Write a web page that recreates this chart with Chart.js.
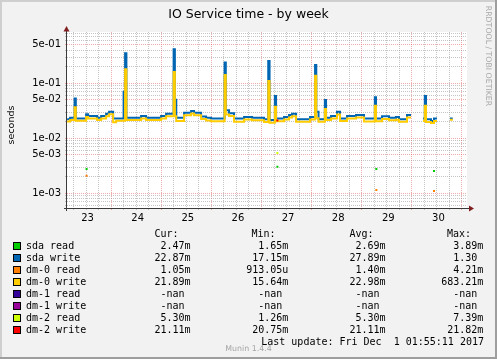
<!DOCTYPE html>
<html>
<head>
<meta charset="utf-8">
<title>IO Service time - by week</title>
<script src="https://cdn.jsdelivr.net/npm/chart.js@4.4.1/dist/chart.umd.min.js"></script>
<style>
html,body{margin:0;padding:0;background:#F2F2F2;overflow:hidden;}
#wrap{position:relative;width:497px;height:359px;}
#chart{position:absolute;left:0;top:0;width:497px;height:359px;}
.txt{position:absolute;white-space:pre;color:#000;}
.mono{font-family:"DejaVu Sans Mono",monospace;font-size:10px;line-height:12px;}
.sq{position:absolute;width:8px;height:8px;box-sizing:border-box;border:1px solid #000;}
</style>
</head>
<body>
<div id="wrap">
<canvas id="chart" width="497" height="359"></canvas>
<div class="txt" style="left:0;top:5.6px;width:497px;text-align:center;font-family:'DejaVu Sans';font-size:12.5px;line-height:15px;">IO Service time - by week</div>
<div class="txt" style="left:-39px;top:119px;width:100px;height:12px;text-align:center;font-family:'DejaVu Sans';font-size:9.5px;line-height:12px;transform:rotate(-90deg);">seconds</div>
<div class="txt" style="left:427.5px;top:50.5px;width:120px;height:10px;text-align:center;font-family:'DejaVu Sans';font-size:7.8px;line-height:10px;color:#A8A8A8;transform:rotate(90deg);">RRDTOOL / TOBI OETIKER</div>
<div id="legend"></div>
<div class="txt" style="left:0;top:343.5px;width:497px;text-align:center;font-family:'DejaVu Sans';font-size:7.86px;line-height:9px;color:#A5A5A5;">Munin 1.4.4</div>
</div>
<script>
// ---------- data ----------
const dayLabels = ['23','24','25','26','27','28','29','30'];
const firstDay = 23;
const yLabelValues = [1e-3, 5e-3, 1e-2, 5e-2, 1e-1, 5e-1];
const yLabelTexts = ['1e-03','5e-03','1e-02','5e-02','1e-01','5e-01'];

// time in days (day-of-month), values in seconds
const writeTimes = [23.122,23.182,23.272,23.296,23.501,23.541,23.721,23.801,23.900,23.960,
  24.040,24.100,24.249,24.279,24.305,24.598,24.698,24.997,25.097,25.247,
  25.272,25.300,25.456,25.596,25.655,25.795,25.895,25.994,26.264,26.288,
  26.353,26.453,26.653,26.812,27.051,27.135,27.161,27.267,27.291,27.450,
  27.550,27.610,27.690,27.969,28.069,28.093,28.138,28.264,28.288,28.388,
  28.507,28.567,28.707,28.886,29.046,29.261,29.285,29.405,29.544,29.684,
  29.744,29.903,29.983,29.990,30.223,30.258,30.282,30.382,30.442,30.502,
  30.510,30.761,30.815];
const sdaWrite = [0.0222,0.0237,0.053,0.0230,0.0273,0.0254,0.0237,0.0254,0.0280,0.0305,
  0.0230,0.0230,0.0700,0.351,0.0237,0.0254,0.0237,0.0254,0.0280,0.415,
  0.0500,0.0237,0.0292,0.0314,0.0290,0.0250,0.0237,0.0230,0.240,0.0323,
  0.0285,0.0230,0.0244,0.0237,0.0222,0.254,0.0215,0.0588,0.0230,0.0244,
  0.0265,0.0280,0.0222,0.0244,0.215,0.0305,0.0222,0.0497,0.0237,0.0254,
  0.0305,0.0230,0.0254,0.0265,0.0230,0.0556,0.0230,0.0251,0.0237,0.0244,
  0.0222,0.0265,0.0265,null,0.0230,0.0588,0.0222,0.0206,0.0230,0.0230,
  null,0.0230,0.0230];
const dm0Write = [0.0202,0.0214,0.0366,0.0208,0.0245,0.0230,0.0214,0.0230,0.0252,0.0275,
  0.0196,0.0208,0.0208,0.180,0.0214,0.0230,0.0214,0.0230,0.0252,0.160,
  0.0252,0.0206,0.0262,0.0282,0.0262,0.0225,0.0210,0.0205,0.1415,0.0270,
  0.0255,0.0200,0.0220,0.0212,0.0198,0.110,0.0192,0.0375,0.0205,0.0220,
  0.0238,0.0252,0.0200,0.0220,0.137,0.0232,0.0200,0.0340,0.0214,0.0230,
  0.0272,0.0206,0.0228,0.0240,0.0202,0.0390,0.0205,0.0225,0.0212,0.0218,
  0.0200,0.0238,0.0238,null,0.0206,0.0390,0.0198,0.0190,0.0207,0.0207,
  null,0.0218,0.0218];

// isolated samples of the read series
const readTimes = [23.511, 27.317, 29.291, 30.442];
const sdaRead  = [0.00277, 0.00305, 0.00277, 0.00254];
const dm0Read  = [0.00209, null, 0.00115, 0.00110];
const dm1Read  = [null, null, null, null];
const dm1Write = [null, null, null, null];
const dm2Read  = [null, 0.0054, null, null];
const dm2Write = [null, 0.0211, null, null];

// legend table
const seriesNames = ['sda read','sda write','dm-0 read','dm-0 write','dm-1 read','dm-1 write','dm-2 read','dm-2 write'];
const curValues = ['2.47m','22.87m','1.05m','21.89m','-nan ','-nan ','5.30m','21.11m'];
const minValues = ['1.65m','17.15m','913.05u','15.64m','-nan ','-nan ','1.26m','20.75m'];
const avgValues = ['2.69m','27.89m','1.40m','22.98m','-nan ','-nan ','5.30m','21.11m'];
const maxValues = ['3.89m','1.30 ','4.21m','683.21m','-nan ','-nan ','7.39m','21.82m'];
const lastUpdate = 'Last update: Fri Dec  1 01:55:11 2017';

// ---------- styling ----------
const seriesColors = ['#00CC00','#0066B3','#FF8000','#FFCC00','#330099','#990099','#CCFF00','#FF0000'];
const GRID_MINOR = 'rgba(150,150,150,0.55)';
const GRID_MAJOR = 'rgba(230,90,90,0.5)';
const X_MIN = 23.12, X_MAX = 31.1;
const Y_MIN = 5.40e-4, Y_MAX = 0.8565;
const SAMPLE_HALF = 0.02;

function stepSeries(times, values) {
  return times.map((t, i) => ({x: t, y: values[i]}));
}
function sampleSeries(times, values) {
  const out = [];
  times.forEach((t, i) => {
    const v = values[i];
    if (v == null) return;
    out.push({x: t - SAMPLE_HALF, y: v}, {x: t + SAMPLE_HALF, y: v}, {x: t + SAMPLE_HALF + 0.001, y: null});
  });
  return out;
}

const seriesData = [
  sampleSeries(readTimes, sdaRead),
  stepSeries(writeTimes, sdaWrite),
  sampleSeries(readTimes, dm0Read),
  stepSeries(writeTimes, dm0Write),
  sampleSeries(readTimes, dm1Read),
  sampleSeries(readTimes, dm1Write),
  sampleSeries(readTimes, dm2Read),
  sampleSeries(readTimes, dm2Write)
];

const datasets = seriesNames.map((name, i) => ({
  label: name,
  data: seriesData[i],
  borderColor: seriesColors[i],
  backgroundColor: seriesColors[i],
  borderWidth: 2,
  pointRadius: 0,
  stepped: true,
  spanGaps: false,
  fill: false,
  order: seriesNames.length - 1 - i
}));

// ---------- legend (HTML text) ----------
const legend = document.getElementById('legend');
function addText(text, style) {
  const d = document.createElement('div');
  d.className = 'txt mono';
  d.textContent = text;
  Object.assign(d.style, style);
  legend.appendChild(d);
}
const headers = ['Cur:','Min:','Avg:','Max:'];
const headerLeft = [154.5, 251.5, 349.5, 447];
const colRight = [190.6, 288.3, 385.6, 483.3];
headers.forEach((h, j) => addText(h, {left: headerLeft[j] + 'px', top: '228px'}));
seriesNames.forEach((name, i) => {
  const top = 240 + 12 * i;
  const sq = document.createElement('div');
  sq.className = 'sq';
  sq.style.left = '13px';
  sq.style.top = (242 + 12 * i) + 'px';
  sq.style.background = seriesColors[i];
  legend.appendChild(sq);
  addText(name, {left: '26px', top: top + 'px'});
  [curValues, minValues, avgValues, maxValues].forEach((col, j) => {
    addText(col[i], {right: (497 - colRight[j]) + 'px', top: top + 'px', textAlign: 'right'});
  });
});
addText(lastUpdate, {right: (497 - 484) + 'px', top: '336px', textAlign: 'right'});

// ---------- chart ----------
const framePlugin = {
  id: 'frame',
  beforeDraw(chart) {
    const {ctx, chartArea: a, width, height} = chart;
    ctx.save();
    ctx.fillStyle = '#F2F2F2';
    ctx.fillRect(0, 0, width, height);
    ctx.fillStyle = '#CFCFCF';
    ctx.fillRect(0, 0, width, 2);
    ctx.fillRect(0, 0, 2, height);
    ctx.fillStyle = '#9E9E9E';
    ctx.fillRect(0, height - 2, width, 2);
    ctx.fillRect(width - 2, 0, 2, height);
    ctx.fillStyle = '#FFFFFF';
    ctx.fillRect(a.left, a.top, a.right - a.left, a.bottom - a.top);
    ctx.restore();
  },
  afterDraw(chart) {
    const {ctx, chartArea: a} = chart;
    ctx.save();
    ctx.strokeStyle = '#3A3A3A';
    ctx.lineWidth = 1;
    ctx.beginPath();
    ctx.moveTo(a.left - 0.5, a.bottom + 3);
    ctx.lineTo(a.left - 0.5, a.top - 2);
    ctx.moveTo(a.left - 3, a.bottom + 0.5);
    ctx.lineTo(a.right + 3, a.bottom + 0.5);
    ctx.stroke();
    ctx.fillStyle = '#7F1F1F';
    ctx.beginPath();
    ctx.moveTo(a.left - 0.5, a.top - 6);
    ctx.lineTo(a.left - 3.5, a.top - 0.5);
    ctx.lineTo(a.left + 2.5, a.top - 0.5);
    ctx.closePath();
    ctx.fill();
    ctx.beginPath();
    ctx.moveTo(a.right + 7, a.bottom + 0.5);
    ctx.lineTo(a.right + 2, a.bottom - 2.5);
    ctx.lineTo(a.right + 2, a.bottom + 3.5);
    ctx.closePath();
    ctx.fill();
    ctx.restore();
  }
};

function yLabel(v) {
  for (let i = 0; i < yLabelValues.length; i++) {
    if (Math.abs(v / yLabelValues[i] - 1) < 1e-9) return yLabelTexts[i];
  }
  return '';
}

new Chart(document.getElementById('chart'), {
  type: 'line',
  data: {datasets},
  plugins: [framePlugin],
  options: {
    responsive: false,
    animation: false,
    devicePixelRatio: 1,
    events: [],
    layout: {autoPadding: false, padding: {left: 0, top: 32, right: 30, bottom: 0}},
    plugins: {legend: {display: false}, tooltip: {enabled: false}, title: {display: false}},
    scales: {
      x: {
        type: 'linear',
        min: X_MIN,
        max: X_MAX,
        bounds: 'data',
        afterFit(s) { s.height = 151; },
        afterBuildTicks(s) {
          const t = [];
          for (let v = Math.ceil(X_MIN * 4) / 4; v <= X_MAX; v += 0.25) t.push({value: v});
          s.ticks = t;
        },
        grid: {
          color: c => (c.tick && Number.isInteger(c.tick.value)) ? GRID_MAJOR : GRID_MINOR,
          tickColor: c => (c.tick && Number.isInteger(c.tick.value)) ? GRID_MAJOR : GRID_MINOR,
          lineWidth: 1,
          drawTicks: true,
          tickLength: 2
        },
        border: {display: false, dash: [1, 1]},
        ticks: {
          autoSkip: false,
          maxRotation: 0,
          minRotation: 0,
          padding: 2,
          labelOffset: 1.5,
          color: '#000',
          font: {family: 'DejaVu Sans', size: 10},
          callback(v) {
            if (v % 1 === 0.5) return dayLabels[v - 0.5 - firstDay] || '';
            return '';
          }
        }
      },
      y: {
        type: 'logarithmic',
        min: Y_MIN,
        max: Y_MAX,
        bounds: 'data',
        afterFit(s) { s.width = 67; },
        afterBuildTicks(s) {
          const t = [];
          for (let e = -4; e <= 0; e++) {
            for (let m = 1; m <= 9; m++) {
              const v = m * Math.pow(10, e);
              if (v >= Y_MIN && v <= Y_MAX) t.push({value: v, m});
            }
          }
          s.ticks = t;
        },
        grid: {
          color: c => (c.tick && (c.tick.m === 1 || c.tick.m === 5)) ? GRID_MAJOR : GRID_MINOR,
          tickColor: c => (c.tick && (c.tick.m === 1 || c.tick.m === 5)) ? GRID_MAJOR : GRID_MINOR,
          lineWidth: 1,
          drawTicks: true,
          tickLength: 2
        },
        border: {display: false, dash: [1, 1]},
        ticks: {
          autoSkip: false,
          padding: 4,
          color: '#000',
          font: {family: 'DejaVu Sans', size: 10},
          callback(v) { return yLabel(v); }
        }
      }
    }
  }
});
</script>
</body>
</html>
